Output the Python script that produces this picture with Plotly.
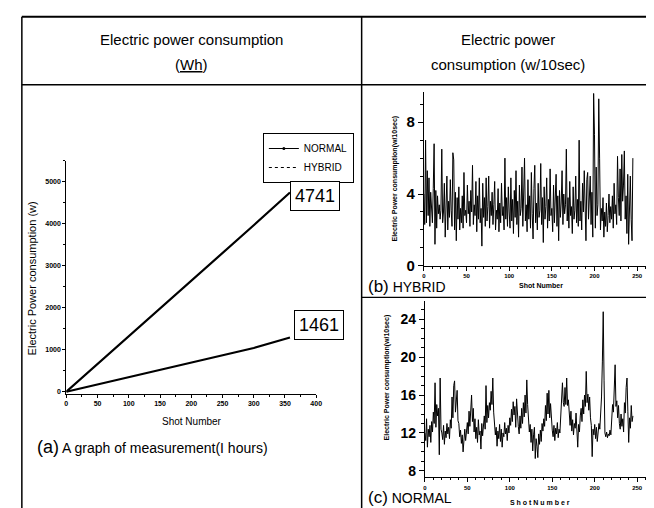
import plotly.graph_objects as go

# ---- Data -------------------------------------------------------------
# (a) cumulative consumption over 1 hour (Wh)
a_shot = [0, 50, 100, 150, 200, 250, 300, 358]
a_normal = [0, 660, 1310, 1980, 2640, 3300, 3960, 4741]
a_hybrid = [0, 175, 350, 520, 690, 860, 1040, 1290]
label_normal = "4741"
label_hybrid = "1461"

# (b) HYBRID power per 10 s, shots 0..245
hybrid = [
    4.0, 2.3, 7.0, 2.4, 5.3, 2.8, 4.9, 2.2, 4.1, 3.5,
    2.4, 4.3, 6.8, 1.2, 4.2, 2.1, 3.9, 2.9, 3.4, 2.6,
    3.1, 6.5, 2.4, 3.0, 4.6, 1.6, 3.4, 5.0, 2.0, 3.6,
    2.7, 4.8, 3.1, 2.2, 6.3, 5.9, 2.0, 4.1, 1.4, 3.8,
    2.6, 4.4, 2.0, 3.2, 2.4, 3.9, 2.1, 5.2, 2.8, 3.1,
    2.4, 4.5, 2.9, 3.6, 2.2, 4.2, 3.0, 5.6, 2.3, 3.4,
    2.8, 4.7, 1.9, 3.9, 2.6, 4.9, 2.4, 3.2, 1.1, 4.6,
    2.7, 3.8, 2.2, 4.9, 2.5, 3.3, 5.0, 2.1, 3.6, 2.8,
    4.1, 2.3, 3.4, 4.7, 2.0, 3.1, 2.6, 4.3, 1.9, 3.5,
    2.4, 4.6, 2.8, 3.3, 2.0, 6.0, 2.6, 3.8, 2.2, 4.4,
    3.0, 2.1, 4.9, 2.5, 3.7, 1.8, 4.2, 2.7, 5.3, 2.3,
    3.6, 1.6, 4.5, 2.8, 3.2, 5.5, 2.2, 4.0, 6.0, 2.5,
    3.4, 1.9, 4.8, 2.6, 3.9, 2.1, 5.2, 2.9, 1.5, 4.3,
    5.6, 2.4, 3.5, 2.0, 4.6, 2.7, 3.1, 5.7, 2.3, 3.8,
    1.3, 4.4, 2.6, 3.3, 4.9, 2.1, 3.7, 2.5, 5.4, 2.8,
    3.2, 1.9, 4.5, 2.4, 3.6, 5.1, 2.2, 3.9, 1.4, 4.2,
    2.7, 3.5, 5.3, 2.3, 4.0, 2.9, 3.4, 6.5, 2.5, 3.8,
    2.1, 4.7, 2.8, 3.3, 1.8, 4.4, 2.6, 3.1, 5.0, 2.4,
    3.7, 2.2, 7.0, 2.5, 3.6, 2.0, 4.6, 3.0, 5.3, 2.7,
    1.4, 4.8, 5.2, 2.6, 3.5, 5.0, 2.3, 4.1, 1.6, 9.6,
    7.3, 2.1, 5.5, 2.8, 3.4, 9.3, 6.0, 2.0, 3.2, 2.5,
    3.8, 1.6, 3.0, 2.2, 3.5, 1.9, 2.8, 4.0, 2.4, 3.3,
    2.6, 3.9, 2.1, 4.6, 2.9, 3.4, 2.3, 6.1, 3.8, 2.8,
    5.4, 2.5, 6.2, 3.6, 4.5, 6.4, 2.6, 3.9, 1.8, 5.1,
    1.2, 3.4, 5.0, 2.6, 1.4, 6.0,
]

# (c) NORMAL power per 10 s, shots 0..245
normal = [
    12.0, 11.2, 13.5, 10.5, 12.4, 11.6, 12.8, 11.0, 13.2, 12.1,
    14.2, 13.0, 17.3, 12.6, 15.0, 13.8, 14.6, 9.7, 17.8, 12.4,
    12.0, 11.3, 12.8, 10.8, 12.2, 11.5, 13.0, 11.9, 12.6, 11.4,
    13.4, 12.5, 15.8, 13.6, 17.0, 17.5, 14.2, 15.9, 16.5, 13.3,
    13.0, 11.6, 12.3, 10.9, 11.8, 10.0, 11.5, 12.4, 11.2, 12.6,
    13.1, 11.9, 14.3, 12.7, 15.5, 16.0, 13.2, 14.6, 12.1, 13.5,
    11.4, 12.6, 11.0, 13.4, 11.8, 12.2, 10.3, 13.0, 11.7, 12.5,
    13.8, 12.4, 17.0, 13.1, 14.9, 13.6, 15.2, 14.4, 16.4, 15.0,
    17.8, 14.2, 13.0, 11.8, 12.6, 10.6, 12.2, 11.4, 12.9, 11.1,
    12.4, 10.5, 12.0, 11.6, 13.1, 11.9, 12.5, 11.2, 12.8, 12.0,
    13.6, 12.8, 14.5, 13.2, 15.3, 13.9, 14.8, 12.6, 15.6, 13.4,
    12.7, 11.9, 13.8, 12.5, 14.6, 13.0, 15.2, 13.7, 16.0, 14.1,
    17.6, 15.0, 13.4, 12.1, 12.9, 11.0, 12.4, 10.1, 11.8, 12.6,
    9.3, 11.4, 10.6, 9.4, 11.9, 10.8, 12.3, 11.1, 13.0, 12.2,
    13.5, 12.7, 14.9, 13.3, 16.2, 14.0, 16.5, 13.6, 15.1, 12.9,
    12.3, 11.6, 12.8, 11.2, 12.5, 11.9, 13.1, 11.5, 12.4, 12.0,
    13.8, 14.5, 17.3, 15.2, 14.8, 16.8, 15.0, 17.8, 14.9, 15.5,
    13.9, 12.8, 14.3, 12.2, 13.4, 11.8, 13.0, 12.5, 14.1, 11.6,
    10.5, 12.9, 12.1, 13.8, 14.6, 13.2, 15.5, 14.0, 16.0, 14.8,
    18.5, 15.2, 16.1, 14.4, 15.8, 13.6, 12.8, 9.5, 12.4, 11.8,
    12.9, 11.4, 12.6, 11.1, 12.2, 13.0, 12.4, 14.2, 15.8, 19.5,
    24.8, 17.5, 12.0, 11.6, 12.1, 11.5, 11.9, 11.7, 12.3, 11.8,
    13.2, 15.0, 14.2, 16.3, 19.2, 14.8, 15.4, 13.6, 14.9, 13.0,
    12.4, 14.0, 12.7, 13.5, 12.1, 15.2, 14.1, 16.8, 17.8, 14.3,
    11.0, 13.6, 12.5, 14.9, 13.2, 13.8,
]
shots = list(range(len(hybrid)))

a_xticks = [0, 50, 100, 150, 200, 250, 300, 350, 400]
a_yticks = [0, 1000, 2000, 3000, 4000, 5000]
bc_xticks = [0, 50, 100, 150, 200, 250]
b_yticks = [0, 4, 8]
c_yticks = [8, 12, 16, 20, 24]

# ---- Figure -----------------------------------------------------------
W, H = 654, 508
def px(x):
    return x / W
def py(y):
    return 1 - y / H

SANS = "Liberation Sans, Arial, sans-serif"

fig = go.Figure()

fig.add_trace(go.Scatter(x=a_shot, y=a_normal, mode="lines", xaxis="x", yaxis="y",
                         line=dict(color="black", width=2.2), showlegend=False))
fig.add_trace(go.Scatter(x=a_shot, y=a_hybrid, mode="lines", xaxis="x", yaxis="y",
                         line=dict(color="black", width=2.2), showlegend=False))
# legend entries
fig.add_trace(go.Scatter(x=[None], y=[None], mode="lines+markers", name="NORMAL",
                         xaxis="x", yaxis="y",
                         line=dict(color="black", width=1), marker=dict(size=3, color="black")))
fig.add_trace(go.Scatter(x=[None], y=[None], mode="lines", name="HYBRID",
                         xaxis="x", yaxis="y",
                         line=dict(color="black", width=1, dash="dot")))

fig.add_trace(go.Scatter(x=shots, y=hybrid, mode="lines", xaxis="x2", yaxis="y2",
                         line=dict(color="black", width=1), showlegend=False))
fig.add_trace(go.Scatter(x=shots, y=normal, mode="lines", xaxis="x3", yaxis="y3",
                         line=dict(color="black", width=1), showlegend=False))

axis_common = dict(showgrid=False, zeroline=False, showline=True, linecolor="black",
                   linewidth=1, ticks="outside", tickcolor="black", mirror=False)

fig.update_layout(
    width=W, height=H, margin=dict(l=0, r=0, t=0, b=0),
    paper_bgcolor="white", plot_bgcolor="white",
    xaxis=dict(domain=[px(57), px(310)], range=[0, 400], anchor="y",
               tickvals=a_xticks, ticklen=3, tickwidth=1,
               minor=dict(dtick=25, ticklen=2, ticks="outside", tickcolor="black"),
               tickfont=dict(family=SANS, size=7, color="black", weight="bold"),
               **axis_common),
    yaxis=dict(domain=[py(392), py(155)], range=[-50, 5500], anchor="x",
               tickvals=a_yticks, ticklen=3, tickwidth=1,
               minor=dict(dtick=500, ticklen=2, ticks="outside", tickcolor="black"),
               tickfont=dict(family=SANS, size=7, color="black", weight="bold"),
               **axis_common),
    xaxis2=dict(domain=[px(419), px(647)], range=[0, 264], anchor="y2",
                tickvals=bc_xticks, ticklen=4,
                minor=dict(dtick=10, ticklen=2, ticks="outside", tickcolor="black"),
                tickfont=dict(family=SANS, size=6, color="black", weight="bold"),
                **axis_common),
    yaxis2=dict(domain=[py(262), py(85)], range=[0, 9.7], anchor="x2",
                tickvals=b_yticks, ticklen=5,
                minor=dict(dtick=1, ticklen=3, ticks="outside", tickcolor="black"),
                tickfont=dict(family=SANS, size=15, color="black", weight="bold"),
                **axis_common),
    xaxis3=dict(domain=[px(420), px(647)], range=[0, 264], anchor="y3",
                tickvals=bc_xticks, ticklen=4,
                minor=dict(dtick=10, ticklen=2, ticks="outside", tickcolor="black"),
                tickfont=dict(family=SANS, size=6, color="black", weight="bold"),
                **axis_common),
    yaxis3=dict(domain=[py(477), py(298)], range=[7.3, 25.9], anchor="x3",
                tickvals=c_yticks, ticklen=5,
                minor=dict(dtick=1, ticklen=3, ticks="outside", tickcolor="black"),
                tickfont=dict(family=SANS, size=14, color="black", weight="bold"),
                **axis_common),
    legend=dict(x=px(256), y=py(127), xanchor="left", yanchor="top",
                bordercolor="black", borderwidth=1, bgcolor="white",
                font=dict(family=SANS, size=10, color="black"),
                itemwidth=30, tracegroupgap=0),
    showlegend=True,
)

# ---- Table lines ------------------------------------------------------
def line(x0, y0, x1, y1, w=1.5):
    fig.add_shape(type="line", xref="paper", yref="paper",
                  x0=px(x0), y0=py(y0), x1=px(x1), y1=py(y1),
                  line=dict(color="black", width=w))

line(12, 9, 652, 9, 2)
line(12, 9, 12, 508)
line(652, 9, 652, 508)
line(356, 9, 356, 508)
line(12, 78, 652, 78, 1.5)
line(356, 294, 652, 294, 1.2)

# ---- Text -------------------------------------------------------------
def text(x, y, s, size, family=SANS, xanchor="center", angle=0, weight="normal"):
    fig.add_annotation(xref="paper", yref="paper", x=px(x), y=py(y), text=s,
                       showarrow=False, xanchor=xanchor, yanchor="middle",
                       textangle=angle,
                       font=dict(family=family, size=size, color="black", weight=weight))

text(184, 32, "Electric power consumption", 15)
text(184, 57, "(<u>Wh</u>)", 15)
text(504, 32, "Electric power", 15)
text(504, 57, "consumption (w/10sec)", 15)

text(184, 420, "Shot Number", 10)
text(22, 275, "Electric Power consumption (w)", 11, angle=-90)
text(25, 446, "<span style='font-size:18px'>(a)</span> A graph of measurement(I hours)",
     14, xanchor="left")

text(538, 282, "Shot Number", 7, weight="bold")
text(390, 173, "Electric Power consumption(w/10sec)", 7, angle=-90, weight="bold")
text(360, 283, "<span style='font-size:17px'>(b)</span> HYBRID", 14, xanchor="left")

text(537, 502, "S h o t N u m b e r", 7, weight="bold")
text(382, 375, "Electric Power consumption(w/10sec)", 7, angle=-90, weight="bold")
text(360, 497, "<span style='font-size:17px'>(c)</span> NORMAL", 14, xanchor="left")

# value boxes
for (cx, cy, s) in [(309, 191, label_normal), (313, 322, label_hybrid)]:
    fig.add_annotation(xref="paper", yref="paper", x=px(cx), y=py(cy), text=s,
                       showarrow=False, xanchor="center", yanchor="middle",
                       bordercolor="black", borderwidth=1, borderpad=4, bgcolor="white",
                       font=dict(family=SANS, size=18, color="black"))

fig.write_html("out.html")
